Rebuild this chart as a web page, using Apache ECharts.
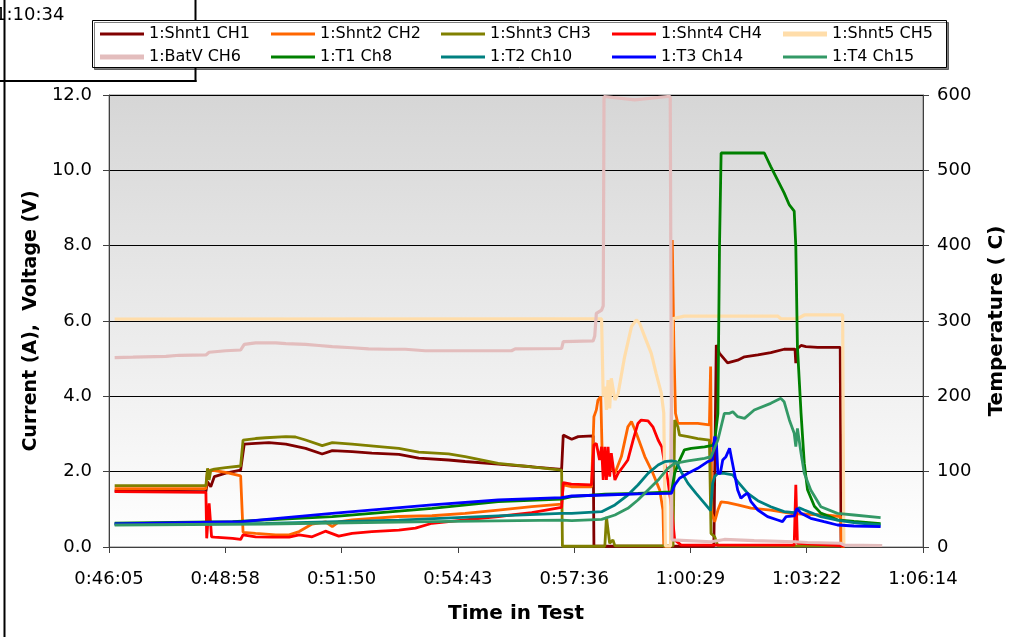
<!DOCTYPE html>
<html>
<head>
<meta charset="utf-8">
<script src="https://cdn.jsdelivr.net/npm/echarts@6/dist/echarts.min.js"></script>
<style>
html,body{margin:0;padding:0;background:#fff;}
#chart{width:1015px;height:637px;}
</style>
</head>
<body>
<div id="chart"></div>
<script>
// ---------- axis tick labels ----------
const timeTicks = ['0:46:05','0:48:58','0:51:50','0:54:43','0:57:36','1:00:29','1:03:22','1:06:14'];
const timeMin = 46.08;   // minutes (0:46:05)
const timeStep = 2.88;   // minutes (0.002 day)

// ---------- series names ----------
const seriesNames = ['1:Shnt1 CH1','1:Shnt2 CH2','1:Shnt3 CH3','1:Shnt4 CH4','1:Shnt5 CH5',
                     '1:BatV CH6','1:T1 Ch8','1:T2 Ch10','1:T3 Ch14','1:T4 Ch15'];

// ---------- data: [time in minutes, value] ----------
// currents (A) / voltage (V) on left axis
const shnt1 = [[46.22,1.49],[48.48,1.47],[48.52,1.73],[48.60,1.60],[48.69,1.87],[48.97,1.96],[49.34,2.04],[49.43,2.73],[49.71,2.75],[50.04,2.77],[50.46,2.73],[50.95,2.62],[51.36,2.47],[51.61,2.56],[52.10,2.53],[52.59,2.49],[53.26,2.46],[53.75,2.36],[54.49,2.31],[54.90,2.27],[55.72,2.20],[56.55,2.13],[57.29,2.06],[57.33,2.97],[57.54,2.86],[57.70,2.93],[58.07,2.95],[58.09,0.02],[61.06,0.02],[61.12,5.36],[61.20,5.14],[61.40,4.89],[61.65,4.96],[61.82,5.05],[62.15,5.10],[62.47,5.16],[62.80,5.25],[63.07,5.25],[63.09,4.88],[63.11,5.25],[63.22,5.35],[63.34,5.32],[63.63,5.30],[64.19,5.30],[64.21,0.02],[64.30,0.02]];
const shnt2 = [[46.22,1.55],[48.48,1.55],[48.52,2.04],[48.69,2.03],[48.97,1.98],[49.34,1.89],[49.40,0.39],[49.71,0.36],[50.21,0.32],[50.54,0.32],[50.79,0.41],[51.11,0.61],[51.44,0.67],[51.61,0.54],[51.77,0.67],[52.10,0.72],[52.59,0.76],[53.26,0.81],[54.08,0.83],[54.90,0.89],[55.72,0.98],[56.55,1.07],[57.29,1.14],[57.33,1.65],[57.53,1.60],[58.03,1.60],[58.09,3.46],[58.15,3.64],[58.19,3.90],[58.26,3.99],[58.29,2.66],[58.36,1.96],[58.44,2.22],[58.61,1.96],[58.77,2.40],[58.93,3.19],[59.02,3.33],[59.14,3.02],[59.35,2.40],[59.55,1.96],[59.72,1.51],[59.80,0.98],[59.82,0.02],[59.99,0.02],[60.03,8.15],[60.07,5.32],[60.11,3.55],[60.17,3.28],[60.66,3.28],[60.95,3.24],[60.98,4.79],[61.01,0.89],[61.08,0.67],[61.16,0.98],[61.24,1.20],[61.40,1.18],[61.65,1.12],[61.98,1.03],[62.47,0.98],[62.97,0.89],[63.79,0.85],[64.20,0.81],[64.22,0.02],[64.30,0.02]];
const shnt3 = [[46.22,1.63],[48.48,1.63],[48.52,2.09],[48.56,1.78],[48.60,2.04],[48.69,2.07],[48.97,2.11],[49.34,2.15],[49.40,2.84],[49.71,2.88],[49.96,2.90],[50.46,2.93],[50.70,2.92],[50.95,2.84],[51.36,2.69],[51.61,2.77],[52.10,2.73],[52.84,2.66],[53.26,2.62],[53.75,2.52],[54.49,2.47],[54.90,2.40],[55.72,2.22],[56.55,2.13],[57.29,2.04],[57.31,0.02],[58.36,0.02],[58.40,0.80],[58.44,0.75],[58.48,0.10],[58.56,0.19],[58.61,0.03],[60.05,0.03],[60.09,3.37],[60.17,3.19],[60.21,2.97],[60.42,2.93],[60.66,2.88],[60.95,2.84],[60.99,0.36],[61.08,0.27],[61.16,0.03],[64.30,0.03]];
const shnt4 = [[46.22,1.47],[48.48,1.45],[48.50,0.23],[48.56,1.16],[48.62,0.27],[48.69,0.26],[49.14,0.23],[49.34,0.20],[49.40,0.32],[49.71,0.27],[50.13,0.26],[50.54,0.26],[50.79,0.32],[51.11,0.27],[51.44,0.42],[51.77,0.29],[52.10,0.36],[52.59,0.41],[53.26,0.45],[53.67,0.50],[54.08,0.63],[54.90,0.72],[55.72,0.81],[56.55,0.91],[57.29,1.05],[57.33,1.71],[57.53,1.67],[58.03,1.65],[58.09,2.71],[58.15,2.75],[58.23,2.31],[58.28,2.66],[58.32,1.78],[58.36,2.66],[58.40,1.78],[58.44,2.66],[58.48,1.87],[58.52,2.49],[58.61,1.78],[58.69,1.96],[58.81,2.13],[58.93,2.31],[59.06,2.84],[59.18,3.28],[59.26,3.37],[59.43,3.35],[59.55,3.19],[59.68,2.84],[59.77,2.66],[59.84,2.22],[59.92,1.78],[60.01,1.07],[60.09,0.19],[60.25,0.05],[63.05,0.05],[63.09,1.65],[63.13,0.10],[64.30,0.03]];
const shnt5 = [[46.22,6.05],[58.28,6.06],[58.32,3.99],[58.36,4.26],[58.40,3.64],[58.44,4.43],[58.48,3.68],[58.52,4.48],[58.61,3.90],[58.69,4.08],[58.85,5.05],[59.02,5.85],[59.14,6.03],[59.22,5.94],[59.35,5.58],[59.51,5.14],[59.63,4.61],[59.76,4.08],[59.82,3.55],[59.86,0.03],[59.99,0.03],[60.03,6.06],[60.33,6.13],[62.64,6.13],[62.72,6.06],[63.13,6.06],[63.30,6.16],[64.25,6.16],[64.28,0.03]];
const batV  = [[46.22,5.03],[46.67,5.04],[47.49,5.06],[47.82,5.09],[48.48,5.10],[48.56,5.17],[48.97,5.21],[49.34,5.23],[49.43,5.38],[49.71,5.42],[50.21,5.42],[50.46,5.40],[50.95,5.38],[51.28,5.35],[51.61,5.32],[52.10,5.29],[52.51,5.26],[53.00,5.25],[53.42,5.25],[53.91,5.21],[56.05,5.21],[56.14,5.26],[57.29,5.27],[57.33,5.45],[58.07,5.47],[58.11,5.60],[58.15,6.20],[58.28,6.29],[58.32,6.40],[58.34,11.96],[59.10,11.87],[59.92,11.96],[59.98,11.96],[60.02,0.19],[60.99,0.14],[61.32,0.20],[62.06,0.17],[63.05,0.14],[63.38,0.12],[64.20,0.10],[64.29,0.05],[65.23,0.04]];
// temperatures (C) on right axis
const t1 = [[46.22,31.5],[49.14,33.6],[51.61,40.3],[54.08,51.3],[55.72,60.2],[57.29,63.7],[57.54,67],[58.36,70],[59.18,71],[60.01,73],[60.09,98],[60.21,115],[60.33,129],[60.50,131],[60.83,133],[61.03,135],[61.08,140],[61.16,177],[61.20,399],[61.24,523],[62.31,523],[62.47,505],[62.64,487],[62.80,470],[62.93,454],[63.05,446],[63.09,399],[63.13,266],[63.22,177],[63.30,111],[63.38,76],[63.55,54],[63.71,45],[64.12,36],[64.53,34],[65.19,31]];
const t2 = [[46.22,30.5],[49.96,31.4],[53.26,35.8],[55.72,41.2],[57.29,44.7],[57.54,44.7],[58.28,46.9],[58.61,55.8],[58.93,69],[59.18,82.3],[59.43,97.8],[59.68,108.8],[59.84,113.3],[60.01,114.2],[60.13,113.3],[60.25,100],[60.42,84.5],[60.62,71.2],[60.83,58],[60.98,48.2],[61.03,84.5],[61.08,93.4],[61.16,97.8],[61.32,97.8],[61.53,95.6],[61.65,86.7],[61.90,71.2],[62.15,61.5],[62.47,53.5],[62.80,46.9],[63.05,45.6],[63.17,52.2],[63.30,49.1],[63.71,40.3],[64.12,35.8],[64.53,32.3],[65.19,29.2]];
const t3 = [[46.22,30.5],[49.38,33.6],[51.61,44.7],[54.08,55.8],[55.72,62.4],[57.29,65.5],[57.54,67.7],[58.36,69],[59.18,70.4],[60.01,71.2],[60.09,82.3],[60.21,91.2],[60.42,97.8],[60.66,104.4],[60.91,113.3],[61.03,115.5],[61.08,146.5],[61.12,142],[61.16,97.8],[61.22,97.8],[61.28,115.5],[61.36,119.9],[61.45,131],[61.49,119.9],[61.57,97.8],[61.65,75.7],[61.73,64.6],[61.82,69],[61.90,71.2],[61.98,60.2],[62.15,49.1],[62.39,40.3],[62.64,35.8],[62.76,33.6],[62.85,40.3],[63.05,41.2],[63.12,51.3],[63.22,44.7],[63.46,38.1],[63.79,33.6],[64.12,29.2],[64.53,27.9],[65.19,27]];
const t4 = [[46.22,29.2],[49.96,30.5],[54.08,33.6],[57.29,35.8],[57.54,35],[58.28,36.7],[58.61,42.5],[58.93,51.3],[59.18,62.4],[59.43,75.7],[59.68,88.9],[59.92,104.4],[60.09,111],[60.42,114.2],[60.83,117.7],[60.99,119.9],[61.16,142],[61.32,177.4],[61.45,177.4],[61.53,179.6],[61.65,173],[61.82,170.8],[62.06,181.9],[62.47,190.7],[62.72,197.3],[62.80,192.9],[62.93,168.6],[63.05,150.9],[63.09,133.2],[63.13,157.5],[63.22,124.3],[63.30,97.8],[63.46,75.7],[63.71,53.5],[64.12,44.7],[64.53,42.5],[65.19,38.9]];

const seriesData = [shnt1, shnt2, shnt3, shnt4, shnt5, batV, t1, t2, t3, t4];
const seriesColors = ['#800000','#FF6600','#808000','#FF0000','#FFDDAA','#E3BDBD','#008000','#008080','#0000FF','#339966'];
const seriesAxis = [0,0,0,0,0,0,1,1,1,1];
const seriesWidth = [2.8,2.8,2.8,2.8,3.2,3.2,2.8,2.8,2.8,2.8];

const FONT = '"DejaVu Sans", Verdana, sans-serif';
const chart = echarts.init(document.getElementById('chart'), null, {renderer: 'canvas'});

const legendCols = [100, 271, 441, 612, 783];
const legendRows = [25, 48];
const legends = seriesNames.map((n, i) => ({
  data: [n],
  left: legendCols[i % 5],
  top: legendRows[Math.floor(i / 5)],
  padding: 0,
  icon: 'rect',
  itemWidth: 44,
  itemHeight: (i === 4 || i === 5) ? 5 : 3,
  selectedMode: false,
  z: 10,
  textStyle: {fontFamily: FONT, fontSize: 16, color: '#000', lineHeight: 18}
}));

const series = seriesNames.map((n, i) => ({
  name: n,
  type: 'line',
  yAxisIndex: seriesAxis[i],
  data: seriesData[i],
  showSymbol: false,
  symbol: 'none',
  animation: false,
  lineStyle: {color: seriesColors[i], width: seriesWidth[i]},
  itemStyle: {color: seriesColors[i]},
  emphasis: {disabled: true}
}));

const option = {
  animation: false,
  backgroundColor: '#ffffff',
  grid: {
    left: 109, right: 89, top: 95, bottom: 90,
    show: true,
    borderColor: '#808080', borderWidth: 1,
    backgroundColor: {type: 'linear', x: 0, y: 0, x2: 0, y2: 1,
      colorStops: [{offset: 0, color: '#D6D6D6'}, {offset: 1, color: '#FFFFFF'}]}
  },
  legend: legends,
  xAxis: {
    type: 'value',
    min: timeMin, max: timeMin + 7 * timeStep, interval: timeStep,
    axisLine: {show: true, lineStyle: {color: '#404040', width: 1}},
    axisTick: {show: true, length: 6, lineStyle: {color: '#404040'}},
    axisLabel: {fontFamily: FONT, fontSize: 18, color: '#000', margin: 23,
      showMinLabel: true, showMaxLabel: true,
      formatter: v => timeTicks[Math.round((v - timeMin) / timeStep)]},
    splitLine: {show: false},
    name: 'Time in Test', nameLocation: 'middle', nameGap: 57,
    nameTextStyle: {fontFamily: FONT, fontSize: 20, fontWeight: 'bold', color: '#000'}
  },
  yAxis: [
    {
      type: 'value', position: 'left', min: 0, max: 12, interval: 2,
      axisLine: {show: true, lineStyle: {color: '#404040', width: 1}},
      axisTick: {show: true, length: 6, lineStyle: {color: '#404040'}},
      axisLabel: {fontFamily: FONT, fontSize: 18, color: '#000', margin: 17,
        formatter: v => v.toFixed(1)},
      splitLine: {show: true, lineStyle: {color: '#000', width: 1}},
      name: 'Current (A),  Voltage (V)', nameLocation: 'middle', nameGap: 62, nameRotate: 90,
      nameTextStyle: {fontFamily: FONT, fontSize: 19, fontWeight: 'bold', color: '#000'}
    },
    {
      type: 'value', position: 'right', min: 0, max: 600, interval: 100,
      axisLine: {show: true, lineStyle: {color: '#404040', width: 1}},
      axisTick: {show: true, length: 6, lineStyle: {color: '#404040'}},
      axisLabel: {fontFamily: FONT, fontSize: 18, color: '#000', margin: 14},
      splitLine: {show: false},
      name: 'Temperature ( C)', nameLocation: 'middle', nameGap: 64, nameRotate: 90,
      nameTextStyle: {fontFamily: FONT, fontSize: 20, fontWeight: 'bold', color: '#000'}
    }
  ],
  graphic: [
    {type: 'line', z: 1, shape: {x1: 4.5, y1: 0, x2: 4.5, y2: 637}, style: {stroke: '#000', lineWidth: 2}},
    {type: 'line', z: 1, shape: {x1: 195.5, y1: 0, x2: 195.5, y2: 82}, style: {stroke: '#000', lineWidth: 2}},
    {type: 'line', z: 1, shape: {x1: 0, y1: 81, x2: 196.5, y2: 81}, style: {stroke: '#000', lineWidth: 2}},
    {type: 'text', z: 1, x: -5, y: 6, style: {text: '1:10:34', font: '18px "DejaVu Sans", Verdana, sans-serif', fill: '#000'}},
    {type: 'rect', z: 3, shape: {x: 92.5, y: 20.5, width: 854, height: 47},
      style: {fill: '#fff', stroke: '#000', lineWidth: 1, shadowColor: 'rgba(0,0,0,0.5)', shadowOffsetX: 2, shadowOffsetY: 2, shadowBlur: 0}}
  ],
  series: series
};
chart.setOption(option);
</script>
</body>
</html>
